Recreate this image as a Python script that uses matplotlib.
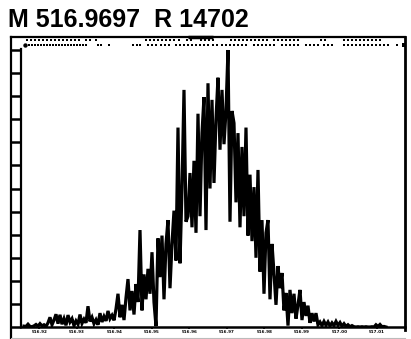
import matplotlib.pyplot as plt
import numpy as np
from matplotlib.lines import Line2D

# spectrum profile (relative intensity, evenly sampled in m/z)
mz_start = 516.91587
mz_end = 517.0124
intensity = [
    0.3, 0.2, 1.0, 0.2, 0.1, 0.4, 0.9, 0.3, 1.2, 0.4, 0.8, 0.2,
    1.5, 3.5, 0.8, 2.5, 4.6, 1.2, 4.4, 1.0, 3.0, 0.6,
    4.3, 1.8, 3.0, 0.5, 2.2, 1.0, 4.5, 1.3, 2.8, 1.5, 7.5, 2.0,
    3.5, 1.2, 2.6, 0.8, 5.0, 1.8, 3.8, 2.2, 5.8, 3.0, 4.2, 2.4, 6.5,
    12.0, 3.5, 8.0, 2.5, 10.5, 17.3, 6.0, 13.0, 4.5, 15.5, 9.0, 35.0,
    6.0, 19.0, 10.0, 21.0, 12.0, 27.0, 9.0, 0.3, 32.0, 18.0,
    33.0, 10.0, 30.0, 38.6, 14.0, 30.0, 42.0, 24.0, 72.0, 23.0, 50.0, 85.6, 38.0,
    40.0, 55.6, 36.0, 60.0, 34.0, 77.0, 40.0, 70.0, 83.0, 35.0, 88.0, 50.0,
    82.0, 52.0, 75.0, 90.0, 64.0, 85.6, 66.0, 78.0, 100.0, 38.0, 78.0,
    73.6, 45.0, 70.0, 36.0, 65.0, 40.0, 72.0, 33.0, 55.0, 31.0, 50.5, 25.0, 56.7, 20.0,
    38.6, 12.0, 34.0, 38.6, 10.0, 30.0, 19.5, 8.0, 22.0, 14.0, 19.5, 6.0, 12.3, 0.5, 13.4,
    5.0, 12.0, 3.0, 8.0, 13.4, 2.5, 9.0, 4.0, 7.7, 1.5, 5.0, 2.0, 5.0, 0.8, 1.8,
    0.5, 2.0, 0.6, 1.8, 0.4, 1.5, 0.5, 2.0, 0.6, 1.6, 0.3, 1.2, 0.2, 0.8, 0.1, 0.5,
    0.1, 0.0, 0.1, 0.0, 0.1, 0.0, 0.1, 0.0, 0.0, 0.1, 0.0, 0.8, 0.2, 0.9, 0.1, 0.2, 0.0,
]

# hit markers along the top (two rows)
dots_upper = [
    516.9167, 516.9177, 516.9188, 516.9199, 516.9209, 516.9220, 516.9231,
    516.9241, 516.9252, 516.9263, 516.9273, 516.9284, 516.9295, 516.9305,
    516.9324, 516.9335, 516.9351,
    516.9484, 516.9495, 516.9505, 516.9516, 516.9527, 516.9537, 516.9548,
    516.9559, 516.9572,
    516.9593, 516.9604,
    516.9631, 516.9641, 516.9652, 516.9663,
    516.9711, 516.9721, 516.9732, 516.9743, 516.9753, 516.9764, 516.9775,
    516.9785, 516.9796, 516.9807,
    516.9825, 516.9836, 516.9847, 516.9857, 516.9868, 516.9879, 516.9889,
    516.9951, 516.9961,
    517.0012, 517.0023, 517.0033, 517.0044, 517.0055, 517.0065, 517.0076,
    517.0087, 517.0097, 517.0108,
]
dots_lower = [
    516.9172, 516.9180, 516.9188, 516.9196, 516.9204, 516.9212, 516.9220,
    516.9228, 516.9236, 516.9244, 516.9252, 516.9260, 516.9268, 516.9276,
    516.9284, 516.9292, 516.9300, 516.9308, 516.9316, 516.9324,
    516.9356, 516.9364, 516.9385,
    516.9449, 516.9460, 516.9468,
    516.9489, 516.9500, 516.9511, 516.9524, 516.9535, 516.9545,
    516.9564, 516.9575, 516.9585, 516.9596, 516.9607, 516.9617, 516.9628,
    516.9639, 516.9649, 516.9663, 516.9673,
    516.9687, 516.9697, 516.9708, 516.9719, 516.9729, 516.9740, 516.9751,
    516.9772, 516.9783, 516.9793, 516.9804, 516.9815, 516.9825,
    516.9847, 516.9857, 516.9868, 516.9879, 516.9889,
    516.9911, 516.9921, 516.9932, 516.9943,
    516.9959, 516.9969, 516.9980,
    517.0012, 517.0023, 517.0033, 517.0044, 517.0055, 517.0065, 517.0076,
    517.0087, 517.0097, 517.0108, 517.0119, 517.0129,
    517.0153,
]
dot_big_left = 516.9161
dot_big_right = 517.0172
window = (516.9596, 516.9663)

xticks = [516.92, 516.93, 516.94, 516.95, 516.96, 516.97, 516.98, 516.99, 517.00, 517.01]
xlabels = ['%.2f' % t for t in xticks]
yticks = np.linspace(0, 100, 13)

mz = np.linspace(mz_start, mz_end, len(intensity))

W, H = 411, 339
fig = plt.figure(figsize=(W / 100, H / 100), dpi=100)
ax = fig.add_axes([21 / W, 1 - 327 / H, (405 - 21) / W, (327 - 37) / H])

ax.plot(mz, intensity, color='black', lw=2.3, solid_joinstyle='miter')
ax.set_xlim(516.91507, 517.01747)
ax.set_ylim(0, 104.7)

ax.scatter(dots_upper, [103.6] * len(dots_upper), s=1.6, marker='s', color='black', lw=0)
ax.scatter(dots_lower, [101.8] * len(dots_lower), s=1.8, marker='s', color='black', lw=0)
ax.scatter([dot_big_left], [101.8], s=10, marker='o', color='black', lw=0)
ax.scatter([dot_big_right], [101.8], s=7, marker='s', color='black', lw=0)
ax.plot(window, [104.7, 104.7], color='black', lw=2.5, clip_on=False, solid_capstyle='butt')

for s in ['top', 'right']:
    ax.spines[s].set_visible(False)
ax.spines['left'].set_linewidth(1.6)
ax.spines['left'].set_bounds(0, 100.5)
ax.spines['bottom'].set_linewidth(1.8)

ax.set_yticks(yticks)
ax.set_yticklabels([])
ax.tick_params(axis='y', direction='out', length=7.2, width=1.8)
ax.set_xticks(xticks)
ax.set_xticklabels(xlabels, fontsize=3.0, fontweight='bold')
ax.tick_params(axis='x', direction='out', length=1.5, width=1.2, pad=0.6)

# outer frame
def fline(x0, y0, x1, y1, **kw):
    fig.add_artist(Line2D([x0 / W, x1 / W], [1 - y0 / H, 1 - y1 / H], **kw))

fline(11, 37, 405, 37, color='black', lw=1.6)
fline(11, 36.5, 11, 339, color='black', lw=1.6)
fline(405, 36.5, 405, 330, color='black', lw=2.0)
fline(11, 338, 405, 338, color='#bbbbbb', lw=0.8)

fig.text(8 / W, 1 - 27 / H, 'M 516.9697  R 14702', fontsize=18, fontweight='bold',
         family='Liberation Sans', ha='left', va='baseline')

fig.savefig('out.png', dpi=100)
